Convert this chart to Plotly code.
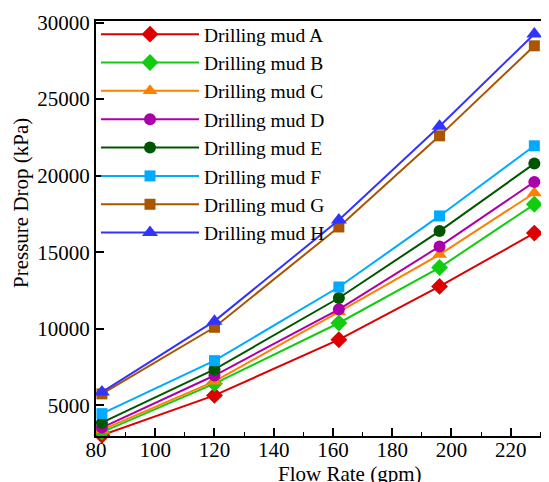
import plotly.graph_objects as go

flow_rate = [82, 120, 162, 196, 228]
mud_a = [3050, 5650, 9290, 12770, 16250]
mud_b = [3250, 6420, 10380, 14000, 18130]
mud_c = [3400, 6570, 11100, 14850, 18870]
mud_d = [3550, 6950, 11275, 15380, 19590]
mud_e = [3870, 7350, 12010, 16380, 20790]
mud_f = [4460, 7920, 12730, 17370, 21950]
mud_g = [5750, 10100, 16650, 22600, 28480]
mud_h = [5870, 10500, 17100, 23230, 29250]

names = ["Drilling mud A", "Drilling mud B", "Drilling mud C", "Drilling mud D",
         "Drilling mud E", "Drilling mud F", "Drilling mud G", "Drilling mud H"]
series = [mud_a, mud_b, mud_c, mud_d, mud_e, mud_f, mud_g, mud_h]
colors = ["#DD0000", "#11CC11", "#FF8000", "#AA00AA", "#005500", "#00AAFF", "#AA5500", "#3333FF"]
symbols = ["diamond", "diamond", "triangle-up", "circle", "circle", "square", "square", "triangle-up"]
sizes = [13, 13, 13, 12, 12, 11, 11, 14]

FONT = "Liberation Serif"

fig = go.Figure()
for name, ys, c, s, sz in zip(names, series, colors, symbols, sizes):
    fig.add_trace(go.Scatter(
        x=flow_rate, y=ys, name=name, mode="lines+markers",
        line=dict(color=c, width=2),
        marker=dict(color=c, symbol=s, size=sz, line=dict(width=0)),
        cliponaxis=False,
    ))

# The page body has an 8px default margin, so the figure is offset by 8px.
fig.update_layout(
    width=541, height=474,
    margin=dict(l=88, r=4, t=13, b=46, autoexpand=False),
    paper_bgcolor="white", plot_bgcolor="white",
    font=dict(family=FONT, color="black", size=20),
    showlegend=True,
    legend=dict(x=0.0, y=1.0145, xanchor="left", yanchor="top",
                bgcolor="rgba(0,0,0,0)", borderwidth=0,
                font=dict(family=FONT, size=19.5, color="black"),
                itemwidth=98, tracegroupgap=0),
    xaxis=dict(range=[80, 231.6], tickmode="linear", tick0=80, dtick=20,
               ticks="inside", ticklen=8, tickwidth=1.5, tickcolor="black",
               minor=dict(ticks="inside", ticklen=4, dtick=10, tickcolor="black", tickwidth=1),
               showline=True, linecolor="black", linewidth=2, mirror=True,
               showgrid=False, zeroline=False, automargin=False,
               ticklabelstandoff=-6,
               tickfont=dict(family=FONT, size=21)),
    yaxis=dict(range=[3000, 30100], tickmode="array",
               tickvals=[5000, 10000, 15000, 20000, 25000, 30000],
               ticktext=["5000", "10000", "15000", "20000", "25000", "30000"],
               ticks="inside", ticklen=8, tickwidth=1.5, tickcolor="black",
               showline=True, linecolor="black", linewidth=2, mirror=True,
               showgrid=False, zeroline=False, automargin=False,
               tickfont=dict(family=FONT, size=21)),
    annotations=[
        dict(text="Flow Rate (gpm)", xref="paper", yref="paper",
             x=(349 - 96) / 449, y=-(474 - 436) / 415, xanchor="center", yanchor="middle",
             showarrow=False, font=dict(family=FONT, size=21)),
        dict(text="Pressure Drop (kPa)", xref="paper", yref="paper",
             x=-(96 - 21) / 449, y=(436 - 203) / 415, xanchor="center", yanchor="middle",
             textangle=-90, showarrow=False, font=dict(family=FONT, size=21)),
    ],
)

fig.write_html("out.html")
